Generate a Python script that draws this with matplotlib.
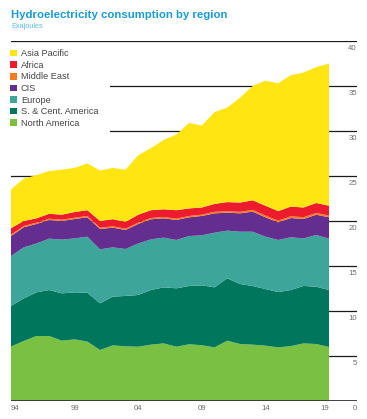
import numpy as np
import matplotlib
matplotlib.use('Agg')
import matplotlib.pyplot as plt
from matplotlib.patches import Patch, Rectangle

plt.rcParams['font.family'] = ['Liberation Sans', 'DejaVu Sans']

# Dados (Exajoules)
anos = list(range(1994, 2020))
north_america = [6.05, 6.67, 7.22, 7.22, 6.70, 6.85, 6.60, 5.67, 6.18, 6.07, 6.03, 6.26, 6.40,
                 6.03, 6.30, 6.20, 5.96, 6.70, 6.33, 6.26, 6.15, 5.96, 6.10, 6.40, 6.33, 6.00]
sc_america = [4.51, 4.73, 4.85, 5.11, 5.26, 5.22, 5.44, 5.18, 5.42, 5.60, 5.75, 6.07, 6.23,
              6.49, 6.48, 6.65, 6.67, 6.93, 6.67, 6.52, 6.29, 6.14, 6.23, 6.38, 6.37, 6.33]
europe = [5.54, 5.67, 5.43, 5.71, 5.97, 6.00, 6.22, 6.00, 5.47, 5.22, 5.72, 5.63, 5.52,
          5.37, 5.55, 5.56, 6.07, 5.30, 5.81, 6.03, 5.82, 5.79, 5.86, 5.29, 5.74, 5.71]
cis = [2.23, 2.23, 2.17, 2.07, 2.07, 2.15, 2.15, 2.26, 2.19, 2.11, 2.17, 2.23, 2.15,
       2.22, 2.08, 2.15, 2.15, 2.00, 2.04, 2.23, 2.15, 1.96, 2.14, 2.15, 2.26, 2.37]
middle_east = [0.15, 0.15, 0.15, 0.15, 0.15, 0.15, 0.15, 0.15, 0.15, 0.15, 0.15, 0.15, 0.15,
               0.15, 0.15, 0.15, 0.17, 0.17, 0.17, 0.20, 0.20, 0.20, 0.20, 0.20, 0.20, 0.20]
africa = [0.72, 0.55, 0.48, 0.54, 0.55, 0.63, 0.64, 0.74, 0.79, 0.75, 0.88, 0.86, 0.85,
          0.94, 0.84, 0.79, 0.88, 1.00, 1.03, 1.06, 1.09, 1.05, 1.07, 1.08, 1.10, 1.09]
asia_pacific = [4.30, 4.70, 4.80, 4.75, 5.00, 4.90, 5.20, 5.60, 5.70, 5.80, 6.60, 6.90, 7.70,
                8.40, 9.50, 9.10, 10.20, 10.50, 11.65, 12.70, 13.90, 14.20, 14.60, 15.00, 15.10, 15.80]

regioes = ['North America', 'S. & Cent. America', 'Europe', 'CIS', 'Middle East', 'Africa', 'Asia Pacific']
cores = ['#7ac143', '#00775c', '#3ea59a', '#642e91', '#f37c20', '#ec1c2e', '#ffe512']
series = [north_america, sc_america, europe, cis, middle_east, africa, asia_pacific]

fig = plt.figure(figsize=(3.67, 4.19), dpi=100)
ax = fig.add_axes([11 / 367, 18 / 419, 346 / 367, 360 / 419])

# Linhas de grade atrás das áreas
for v in range(5, 45, 5):
    ax.axhline(v, color='#1a1a1a', lw=0.9, zorder=0)
ax.axhline(0, color='#333333', lw=1.3, zorder=3)

ax.stackplot(anos, *series, colors=cores, lw=0, zorder=2)

ax.set_xlim(1994, 2021.2)
ax.set_ylim(0, 40)
ax.axis('off')

# Fundo branco da legenda (esconde as linhas de grade)
ax.add_patch(Rectangle((0, 0.735), 0.286, 0.25, transform=ax.transAxes,
                       facecolor='white', edgecolor='none', zorder=1))

# Rótulos do eixo y à direita, abaixo das linhas
for v in range(0, 45, 5):
    ax.text(2021.2, v - 0.4, str(v), ha='right', va='top', fontsize=5.6, color='#6e6e6e')

# Rótulos do eixo x
rotulos = ['94', '99', '04', '09', '14', '19']
for i, ano in enumerate(range(1994, 2020, 5)):
    ha = 'left' if i == 0 else ('right' if i == len(rotulos) - 1 else 'center')
    ax.text(ano, -0.4, rotulos[i], ha=ha, va='top', fontsize=5.6, color='#6e6e6e')

# Legenda
handles = [Patch(facecolor=c, edgecolor='none', label=r) for r, c in zip(regioes, cores)][::-1]
leg = ax.legend(handles=handles, loc='upper left', bbox_to_anchor=(-0.008, 0.982),
                frameon=False, fontsize=6.6, handlelength=0.72, handleheight=0.72,
                handletextpad=0.45, labelspacing=0.28, borderpad=0.2, borderaxespad=0)
for t in leg.get_texts():
    t.set_color('#444444')
leg.set_zorder(5)

fig.text(11 / 367, 1 - 15 / 419, 'Hydroelectricity consumption by region', fontsize=8.2,
         fontweight='bold', color='#1b9ad6', ha='left', va='center')
fig.text(11 / 367, 1 - 27 / 419, 'Exajoules', fontsize=5.3, color='#5db9e8', ha='left', va='center')

fig.savefig('out.png', dpi=100)
